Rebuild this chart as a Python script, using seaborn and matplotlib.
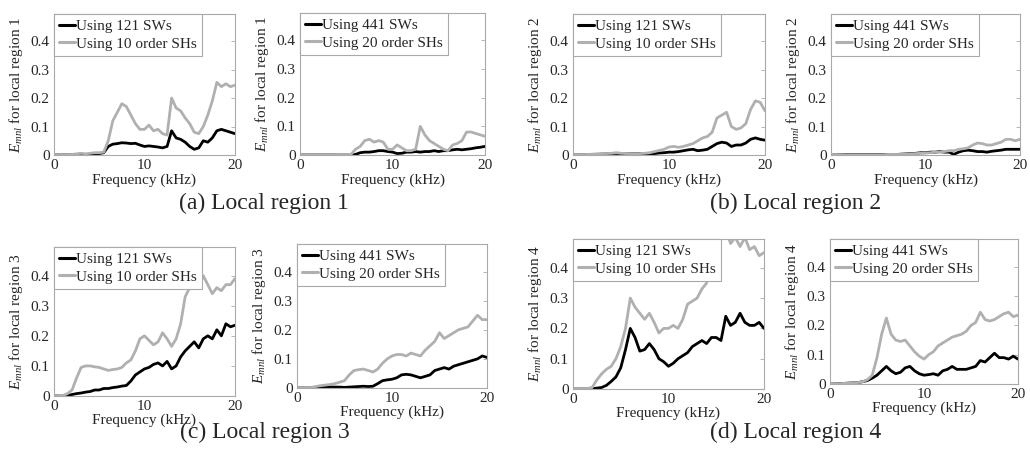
import matplotlib
matplotlib.use('Agg')
import matplotlib.pyplot as plt
import numpy as np
import pandas as pd
import seaborn as sns

##############################################################################
# data (frequency in kHz, error E_mnl)
##############################################################################
FREQ = [0.0, 0.5, 1.0, 1.5, 2.0, 2.5, 3.0, 3.5, 4.0, 4.5,
        5.0, 5.5, 6.0, 6.5, 7.0, 7.5, 8.0, 8.5, 9.0, 9.5,
        10.0, 10.5, 11.0, 11.5, 12.0, 12.5, 13.0, 13.5, 14.0, 14.5,
        15.0, 15.5, 16.0, 16.5, 17.0, 17.5, 18.0, 18.5, 19.0, 19.5, 20.0]

# local region 1
R1_SW121 = [0, 0, 0, 0, 0, 0.001, 0.002, 0.002, 0.002, 0.004,
            0.005, 0.008, 0.03, 0.038, 0.04, 0.043, 0.042, 0.04, 0.041, 0.035,
            0.03, 0.032, 0.03, 0.028, 0.025, 0.03, 0.085, 0.06, 0.055, 0.045,
            0.03, 0.02, 0.025, 0.05, 0.045, 0.06, 0.085, 0.09, 0.085, 0.08, 0.075]
R1_SH10 = [0, 0, 0, 0, 0.002, 0.004, 0.006, 0.004, 0.006, 0.008,
           0.008, 0.01, 0.05, 0.12, 0.15, 0.18, 0.17, 0.14, 0.11, 0.09,
           0.09, 0.105, 0.085, 0.09, 0.075, 0.07, 0.2, 0.165, 0.155, 0.13,
           0.11, 0.08, 0.075, 0.1, 0.14, 0.19, 0.255, 0.24, 0.25, 0.24, 0.245]
R1_SW441 = [0, 0, 0, 0, 0, 0, 0, 0, 0, 0,
            0, 0, 0.002, 0.008, 0.01, 0.01, 0.012, 0.015, 0.015, 0.012,
            0.01, 0.005, 0.006, 0.01, 0.01, 0.012, 0.01, 0.012, 0.012, 0.015,
            0.012, 0.015, 0.015, 0.018, 0.02, 0.018, 0.02, 0.022, 0.025, 0.027, 0.03]
R1_SH20 = [0, 0, 0, 0, 0, 0, 0, 0, 0.001, 0.001,
           0.001, 0.002, 0.02, 0.03, 0.05, 0.055, 0.045, 0.05, 0.045, 0.02,
           0.02, 0.035, 0.025, 0.015, 0.015, 0.02, 0.1, 0.07, 0.05, 0.04,
           0.03, 0.02, 0.015, 0.035, 0.04, 0.05, 0.08, 0.08, 0.075, 0.07, 0.065]

# local region 2
R2_SW121 = [0, 0, 0, 0, 0, 0.002, 0.003, 0.004, 0.005, 0.005,
            0.005, 0.004, 0.005, 0.004, 0.005, 0.004, 0.003, 0.005, 0.007, 0.008,
            0.01, 0.01, 0.012, 0.015, 0.018, 0.02, 0.015, 0.017, 0.02, 0.03,
            0.04, 0.045, 0.042, 0.03, 0.035, 0.035, 0.042, 0.055, 0.06, 0.055, 0.052]
R2_SH10 = [0, 0, 0, 0.001, 0.003, 0.004, 0.005, 0.005, 0.006, 0.008,
           0.006, 0.005, 0.005, 0.004, 0.005, 0.006, 0.008, 0.012, 0.016, 0.02,
           0.028, 0.03, 0.027, 0.03, 0.035, 0.04, 0.05, 0.06, 0.065, 0.08,
           0.13, 0.14, 0.15, 0.1, 0.09, 0.095, 0.11, 0.16, 0.19, 0.185, 0.155]
R2_SW441 = [0, 0, 0.001, 0.002, 0.002, 0.002, 0.002, 0.002, 0.002, 0.002,
            0.002, 0.002, 0.002, 0.002, 0.002, 0.003, 0.004, 0.005, 0.006, 0.008,
            0.008, 0.01, 0.01, 0.012, 0.01, 0.01, 0.002, 0.01, 0.015, 0.017,
            0.015, 0.012, 0.012, 0.01, 0.013, 0.015, 0.017, 0.02, 0.02, 0.02, 0.02]
R2_SH20 = [0, 0, 0.001, 0.001, 0.001, 0.001, 0.001, 0.001, 0.001, 0.001,
           0.001, 0.001, 0.002, 0.002, 0.002, 0.002, 0.003, 0.004, 0.005, 0.006,
           0.007, 0.008, 0.01, 0.01, 0.012, 0.015, 0.015, 0.02, 0.022, 0.025,
           0.035, 0.042, 0.04, 0.035, 0.035, 0.04, 0.045, 0.055, 0.055, 0.05, 0.055]

# local region 3
R3_SW121 = [0, 0, 0, 0.002, 0.005, 0.008, 0.01, 0.013, 0.015, 0.02,
            0.02, 0.025, 0.025, 0.028, 0.03, 0.033, 0.035, 0.05, 0.07, 0.08,
            0.09, 0.095, 0.105, 0.11, 0.1, 0.115, 0.09, 0.1, 0.13, 0.15,
            0.165, 0.18, 0.16, 0.19, 0.2, 0.19, 0.22, 0.2, 0.24, 0.23, 0.235]
R3_SH10 = [0, 0, 0.002, 0.008, 0.02, 0.06, 0.095, 0.1, 0.1, 0.097,
           0.095, 0.09, 0.085, 0.088, 0.09, 0.095, 0.11, 0.12, 0.15, 0.19,
           0.2, 0.185, 0.17, 0.18, 0.21, 0.19, 0.165, 0.19, 0.24, 0.33,
           0.36, 0.37, 0.36, 0.4, 0.37, 0.34, 0.36, 0.35, 0.37, 0.37, 0.39]
R3_SW441 = [0, 0, 0, 0.001, 0.002, 0.003, 0.003, 0.004, 0.003, 0.003,
            0.002, 0.003, 0.004, 0.005, 0.006, 0.005, 0.006, 0.015, 0.025, 0.028,
            0.03, 0.035, 0.045, 0.047, 0.045, 0.04, 0.035, 0.04, 0.045, 0.06,
            0.065, 0.07, 0.065, 0.075, 0.08, 0.085, 0.09, 0.095, 0.1, 0.11, 0.105]
R3_SH20 = [0, 0, 0.001, 0.002, 0.005, 0.008, 0.01, 0.012, 0.015, 0.02,
           0.025, 0.045, 0.06, 0.063, 0.065, 0.06, 0.055, 0.065, 0.085, 0.1,
           0.11, 0.115, 0.115, 0.11, 0.12, 0.115, 0.11, 0.13, 0.145, 0.16,
           0.19, 0.17, 0.18, 0.19, 0.2, 0.205, 0.21, 0.23, 0.25, 0.235, 0.235]

# local region 4
R4_SW121 = [0, 0, 0, 0, 0.001, 0.003, 0.005, 0.012, 0.025, 0.04,
            0.07, 0.13, 0.2, 0.17, 0.125, 0.13, 0.15, 0.13, 0.1, 0.09,
            0.075, 0.085, 0.1, 0.11, 0.12, 0.14, 0.15, 0.16, 0.15, 0.17,
            0.17, 0.16, 0.24, 0.21, 0.22, 0.25, 0.22, 0.21, 0.21, 0.22, 0.2]
R4_SH10 = [0, 0, 0.001, 0.002, 0.005, 0.03, 0.05, 0.065, 0.075, 0.1,
           0.14, 0.2, 0.3, 0.27, 0.25, 0.23, 0.25, 0.22, 0.185, 0.2,
           0.2, 0.21, 0.2, 0.23, 0.28, 0.29, 0.3, 0.33, 0.35, 0.45,
           0.52, 0.5, 0.53, 0.48, 0.5, 0.47, 0.5, 0.46, 0.47, 0.44, 0.45]
R4_SW441 = [0, 0, 0.001, 0.002, 0.003, 0.004, 0.005, 0.008, 0.012, 0.02,
            0.03, 0.045, 0.06, 0.045, 0.035, 0.04, 0.055, 0.06, 0.045, 0.035,
            0.03, 0.032, 0.035, 0.03, 0.045, 0.05, 0.06, 0.05, 0.05, 0.05,
            0.055, 0.06, 0.08, 0.075, 0.09, 0.105, 0.09, 0.09, 0.085, 0.095, 0.085]
R4_SH20 = [0, 0, 0.001, 0.002, 0.003, 0.004, 0.005, 0.008, 0.015, 0.03,
           0.09, 0.17, 0.225, 0.17, 0.15, 0.145, 0.15, 0.13, 0.11, 0.095,
           0.085, 0.1, 0.11, 0.13, 0.14, 0.15, 0.16, 0.165, 0.17, 0.18,
           0.2, 0.21, 0.245, 0.22, 0.215, 0.22, 0.23, 0.24, 0.245, 0.23, 0.235]

SW_LABELS = ['Using 121 SWs', 'Using 441 SWs']
SH_LABELS = ['Using 10 order SHs', 'Using 20 order SHs']
CAPTIONS = ['(a) Local region 1', '(b) Local region 2',
            '(c) Local region 3', '(d) Local region 4']
Y_TICKS = [0, 0.1, 0.2, 0.3, 0.4]
Y_TICK_LABELS = ['0', '0.1', '0.2', '0.3', '0.4']
X_TICKS = [0, 10, 20]

##############################################################################
# panels: (region, variant, SW curve, SH curve)
##############################################################################
PANELS = [
    (1, 0, R1_SW121, R1_SH10), (1, 1, R1_SW441, R1_SH20),
    (2, 0, R2_SW121, R2_SH10), (2, 1, R2_SW441, R2_SH20),
    (3, 0, R3_SW121, R3_SH10), (3, 1, R3_SW441, R3_SH20),
    (4, 0, R4_SW121, R4_SH10), (4, 1, R4_SW441, R4_SH20),
]

# axes rectangles in figure fractions, same order as PANELS
RECTS = [
    [.0524, .6548, .1757, .3140], [.2913, .6548, .1796, .3163],
    [.5563, .6548, .1864, .3140], [.8068, .6548, .1835, .3140],
    [.0524, .1180, .1757, .3318], [.2883, .1359, .1845, .3207],
    [.5563, .1336, .1854, .3341], [.8058, .1448, .1825, .3229],
]
XLABEL_PAD = [1, 1, 1, 1, 0, 0, 0, 0]
CAPTION_POS = [(.256, .548), (.772, .548), (.257, .0379), (.772, .0379)]

##############################################################################
# style
##############################################################################
sns.set_theme(style='white')
plt.rcParams['font.family'] = ['Liberation Serif', 'DejaVu Serif']
plt.rcParams['mathtext.fontset'] = 'custom'
plt.rcParams['mathtext.rm'] = 'Liberation Serif'
plt.rcParams['mathtext.it'] = 'Liberation Serif:italic'
plt.rcParams['font.size'] = 11

FRAME = '#a9a9a9'
LINE_COLORS = ['#000000', '#b0b0b0']

fig = plt.figure(figsize=(10.30, 4.49), dpi=100)

for (region, variant, sw, sh), rect, xpad in zip(PANELS, RECTS, XLABEL_PAD):
    ax = fig.add_axes(rect)
    lab_sw = SW_LABELS[variant]
    lab_sh = SH_LABELS[variant]
    df = pd.DataFrame({
        'freq': FREQ + FREQ,
        'err': sw + sh,
        'method': [lab_sw] * len(FREQ) + [lab_sh] * len(FREQ),
    })
    sns.lineplot(data=df, x='freq', y='err', hue='method',
                 hue_order=[lab_sw, lab_sh], palette=LINE_COLORS,
                 linewidth=2.0, ax=ax)

    ax.set_xlim(0, 20)
    ax.set_ylim(0, 0.495)
    ax.set_xticks(X_TICKS)
    ax.set_xticklabels([str(t) for t in X_TICKS])
    ax.set_yticks(Y_TICKS)
    ax.set_yticklabels(Y_TICK_LABELS)
    ax.tick_params(direction='in', length=3, width=0.6, color=FRAME,
                   top=True, right=True, labelsize=11, pad=3)
    for sp in ax.spines.values():
        sp.set_color(FRAME)
        sp.set_linewidth(0.8)

    ax.set_xlabel('Frequency (kHz)', fontsize=11, labelpad=xpad)
    ax.set_ylabel('$E_{mnl}$ for local region %d' % region, fontsize=11,
                  labelpad=4)

    leg = ax.legend(loc='upper left', borderaxespad=0, fontsize=11,
                    handlelength=1.0, handletextpad=0.1, borderpad=0.35,
                    labelspacing=0.25, fancybox=False, framealpha=1,
                    edgecolor=FRAME)
    leg.get_frame().set_linewidth(0.8)
    for ln in leg.get_lines():
        ln.set_linewidth(2.2)

for cap, (cx, cy) in zip(CAPTIONS, CAPTION_POS):
    fig.text(cx, cy, cap, ha='center', va='center', fontsize=17)

plt.savefig('out.png', dpi=100)
